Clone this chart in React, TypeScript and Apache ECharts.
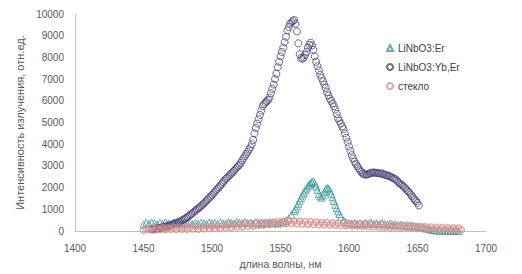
import React, { useEffect, useRef } from "react";
import * as echarts from "echarts";

const xTicks = { min: 1400, max: 1700, interval: 50 };
const yTicks = { min: 0, max: 10000, interval: 1000 };

const seriesNames = ["LiNbO3:Er", "LiNbO3:Yb,Er", "стекло"];

const erX = [
  1450, 1452, 1454, 1456, 1458, 1460, 1462, 1464, 1466, 1468, 1470, 1472, 1474, 1476, 1478, 1480,
  1482, 1484, 1486, 1488, 1490, 1492, 1494, 1496, 1498, 1500, 1502, 1504, 1506, 1508, 1510, 1512,
  1514, 1516, 1518, 1520, 1522, 1524, 1526, 1528, 1530, 1532, 1534, 1536, 1538, 1540, 1542, 1544,
  1546, 1548, 1550, 1552, 1554, 1556, 1558, 1560, 1561, 1562, 1563, 1564, 1565, 1566, 1567, 1568,
  1569, 1570, 1571, 1572, 1573, 1574, 1575, 1576, 1577, 1578, 1579, 1580, 1581, 1582, 1583, 1584,
  1585, 1586, 1587, 1588, 1589, 1590, 1591, 1592, 1593, 1594, 1596, 1598, 1600, 1602, 1604, 1606,
  1608, 1610, 1612, 1614, 1616, 1618, 1620, 1622, 1624, 1626, 1628, 1630, 1632, 1634, 1636, 1638,
  1640, 1642, 1644, 1646, 1648, 1650, 1652, 1654, 1656, 1658, 1660, 1662, 1664, 1666, 1668, 1670,
  1672, 1674, 1676, 1678, 1680,
];
const erY = [
  300, 380, 330, 400, 350, 310, 390, 340, 410, 350, 320, 390, 360, 420, 330, 380,
  350, 400, 320, 370, 340, 390, 350, 330, 400, 350, 380, 330, 410, 360, 340, 420,
  370, 350, 430, 380, 360, 420, 370, 390, 350, 410, 370, 340, 390, 350, 400, 360,
  390, 350, 400, 430, 480, 580, 740, 920, 1020, 1140, 1260, 1400, 1520, 1640, 1760, 1870,
  1960, 2060, 2140, 2210, 2260, 2300, 2200, 2060, 1900, 1720, 1600, 1540, 1650, 1800, 1920, 1990,
  1960, 1860, 1720, 1560, 1390, 1210, 1060, 910, 780, 660, 490, 400, 360, 340, 390, 330,
  370, 320, 380, 340, 400, 330, 360, 320, 380, 330, 300, 350, 290, 320, 270, 300,
  260, 280, 240, 260, 210, 220, 170, 180, 130, 100, 60, 40, 30, 20, 30, 20,
  10, 20, 10, 20, 10,
];

const ybX = [
  1456, 1457, 1458, 1459, 1460, 1461, 1462, 1463, 1464, 1465, 1466, 1467, 1468, 1469, 1470, 1471,
  1472, 1473, 1474, 1475, 1476, 1477, 1478, 1479, 1480, 1481, 1482, 1483, 1484, 1485, 1486, 1487,
  1488, 1489, 1490, 1491, 1492, 1493, 1494, 1495, 1496, 1497, 1498, 1499, 1500, 1501, 1502, 1503,
  1504, 1505, 1506, 1507, 1508, 1509, 1510, 1511, 1512, 1513, 1514, 1515, 1516, 1517, 1518, 1519,
  1520, 1521, 1522, 1523, 1524, 1525, 1526, 1527, 1528, 1529, 1530, 1531, 1532, 1533, 1534, 1535,
  1536, 1537, 1538, 1539, 1540, 1541, 1542, 1543, 1544, 1545, 1546, 1547, 1548, 1549, 1550, 1551,
  1552, 1553, 1554, 1555, 1556, 1557, 1558, 1559, 1560, 1561, 1562, 1563, 1564, 1565, 1566, 1567,
  1568, 1569, 1570, 1571, 1572, 1573, 1574, 1575, 1576, 1577, 1578, 1579, 1580, 1581, 1582, 1583,
  1584, 1585, 1586, 1587, 1588, 1589, 1590, 1591, 1592, 1593, 1594, 1595, 1596, 1597, 1598, 1599,
  1600, 1601, 1602, 1603, 1604, 1605, 1606, 1607, 1608, 1609, 1610, 1611, 1612, 1613, 1614, 1615,
  1616, 1617, 1618, 1619, 1620, 1621, 1622, 1623, 1624, 1625, 1626, 1627, 1628, 1629, 1630, 1631,
  1632, 1633, 1634, 1635, 1636, 1637, 1638, 1639, 1640, 1641, 1642, 1643, 1644, 1645, 1646, 1647,
  1648, 1649, 1650, 1651,
];
const ybY = [
  80, 90, 100, 110, 120, 135, 150, 160, 175, 190, 205, 220, 240, 260, 280, 300,
  325, 350, 370, 400, 425, 450, 490, 520, 560, 600, 650, 690, 740, 790, 840, 900,
  950, 1000, 1050, 1100, 1150, 1210, 1270, 1330, 1400, 1460, 1530, 1590, 1660, 1730, 1800, 1880,
  1950, 2020, 2090, 2170, 2250, 2320, 2400, 2450, 2520, 2580, 2650, 2710, 2780, 2850, 2920, 2980,
  3050, 3140, 3250, 3350, 3450, 3550, 3650, 3760, 3860, 4000, 4200, 4500, 4750, 4950, 5150, 5350,
  5550, 5750, 5850, 5920, 5980, 6050, 6150, 6350, 6550, 6750, 7000, 7250, 7550, 7800, 8050, 8250,
  8450, 8700, 8950, 9250, 9400, 9550, 9620, 9680, 9720, 9550, 9200, 8650, 8150, 7980, 7930, 8000,
  8120, 8250, 8450, 8580, 8680, 8550, 8350, 8050, 7800, 7600, 7400, 7200, 7050, 6900, 6750, 6600,
  6400, 6250, 6100, 6000, 5880, 5750, 5600, 5400, 5200, 5080, 4950, 4820, 4700, 4500, 4300, 4100,
  3900, 3700, 3500, 3350, 3200, 3100, 3000, 2900, 2800, 2720, 2650, 2620, 2600, 2610, 2620, 2650,
  2680, 2690, 2700, 2690, 2680, 2670, 2660, 2655, 2650, 2620, 2600, 2580, 2560, 2540, 2520, 2480,
  2450, 2420, 2380, 2320, 2250, 2200, 2150, 2100, 2050, 1980, 1900, 1840, 1780, 1690, 1600, 1520,
  1450, 1380, 1300, 1180,
];

const glassX = [
  1450, 1452, 1454, 1456, 1458, 1460, 1462, 1464, 1466, 1468, 1470, 1472, 1474, 1476, 1478, 1480,
  1482, 1484, 1486, 1488, 1490, 1492, 1494, 1496, 1498, 1500, 1502, 1504, 1506, 1508, 1510, 1512,
  1514, 1516, 1518, 1520, 1522, 1524, 1526, 1528, 1530, 1532, 1534, 1536, 1538, 1540, 1542, 1544,
  1546, 1548, 1550, 1552, 1554, 1556, 1558, 1560, 1562, 1564, 1566, 1568, 1570, 1572, 1574, 1576,
  1578, 1580, 1582, 1584, 1586, 1588, 1590, 1592, 1594, 1596, 1598, 1600, 1602, 1604, 1606, 1608,
  1610, 1612, 1614, 1616, 1618, 1620, 1622, 1624, 1626, 1628, 1630, 1632, 1634, 1636, 1638, 1640,
  1642, 1644, 1646, 1648, 1650, 1652, 1654, 1656, 1658, 1660, 1662, 1664, 1666, 1668, 1670, 1672,
  1674, 1676, 1678, 1680, 1682,
];
const glassY = [
  40, 120, 60, 140, 50, 130, 70, 150, 60, 140, 80, 160, 70, 170, 90, 180,
  80, 190, 100, 200, 90, 210, 110, 220, 120, 230, 130, 250, 140, 260, 160, 280,
  170, 300, 190, 310, 200, 330, 220, 350, 240, 370, 260, 390, 280, 400, 300, 420,
  320, 440, 330, 450, 340, 460, 350, 460, 340, 450, 330, 440, 320, 430, 310, 420,
  300, 400, 290, 390, 280, 370, 270, 360, 260, 350, 250, 340, 240, 330, 230, 320,
  220, 310, 210, 300, 200, 290, 190, 280, 180, 270, 170, 260, 160, 250, 150, 240,
  140, 230, 130, 220, 120, 210, 110, 200, 100, 190, 90, 180, 80, 170, 70, 160,
  60, 150, 50, 140, 60,
];

const zip = (xs: number[], ys: number[]) => xs.map((x, i) => [x, ys[i]]);

export default function App() {
  const ref = useRef<HTMLDivElement>(null);
  useEffect(() => {
    if (!ref.current) return;
    const chart = echarts.init(ref.current, undefined, { renderer: "svg" });
    const font = "Liberation Sans";
    chart.setOption({
      animation: false,
      backgroundColor: "#ffffff",
      grid: { left: 75, right: 36, top: 14, bottom: 39, containLabel: false },
      legend: {
        orient: "vertical",
        left: 381,
        top: 38,
        itemWidth: 6,
        itemHeight: 6,
        itemGap: 9,
        textStyle: { fontFamily: font, fontSize: 10, color: "#404040" },
        data: seriesNames,
      },
      xAxis: {
        type: "value",
        min: xTicks.min,
        max: xTicks.max,
        interval: xTicks.interval,
        name: "длина волны, нм",
        nameLocation: "middle",
        nameGap: 26,
        nameTextStyle: { fontFamily: font, fontSize: 10.5, color: "#595959" },
        axisLine: { show: true, lineStyle: { color: "#bfbfbf", width: 1 } },
        axisTick: { show: false },
        splitLine: { show: false },
        axisLabel: {
          fontFamily: font,
          fontSize: 10,
          color: "#595959",
          margin: 12,
          formatter: (v: number) => String(v),
        },
      },
      yAxis: {
        type: "value",
        min: yTicks.min,
        max: yTicks.max,
        interval: yTicks.interval,
        name: "Интенсивность излучения, отн.ед.",
        nameLocation: "middle",
        nameGap: 40,
        nameTextStyle: { fontFamily: font, fontSize: 11, color: "#595959" },
        axisLine: { show: true, lineStyle: { color: "#bfbfbf", width: 1 } },
        axisTick: { show: false },
        splitLine: { show: false },
        axisLabel: {
          fontFamily: font,
          fontSize: 10,
          color: "#595959",
          margin: 11,
          formatter: (v: number) => String(v),
        },
      },
      series: [
        {
          name: seriesNames[0],
          type: "scatter",
          symbol: "triangle",
          symbolSize: 7,
          data: zip(erX, erY),
          itemStyle: { color: "rgba(255,255,255,0)", borderColor: "#3b9a9c", borderWidth: 1 },
        },
        {
          name: seriesNames[1],
          type: "scatter",
          symbol: "circle",
          symbolSize: 7,
          data: zip(ybX, ybY),
          itemStyle: { color: "rgba(255,255,255,0)", borderColor: "#4e4076", borderWidth: 1 },
        },
        {
          name: seriesNames[2],
          type: "scatter",
          symbol: "circle",
          symbolSize: 6,
          data: zip(glassX, glassY),
          itemStyle: { color: "rgba(255,255,255,0)", borderColor: "#d98e8e", borderWidth: 1.5 },
        },
      ],
    });
    return () => chart.dispose();
  }, []);
  return (
    <div
      ref={ref}
      style={{ position: "fixed", left: 0, top: 0, width: 522, height: 274, background: "#fff" }}
    />
  );
}
